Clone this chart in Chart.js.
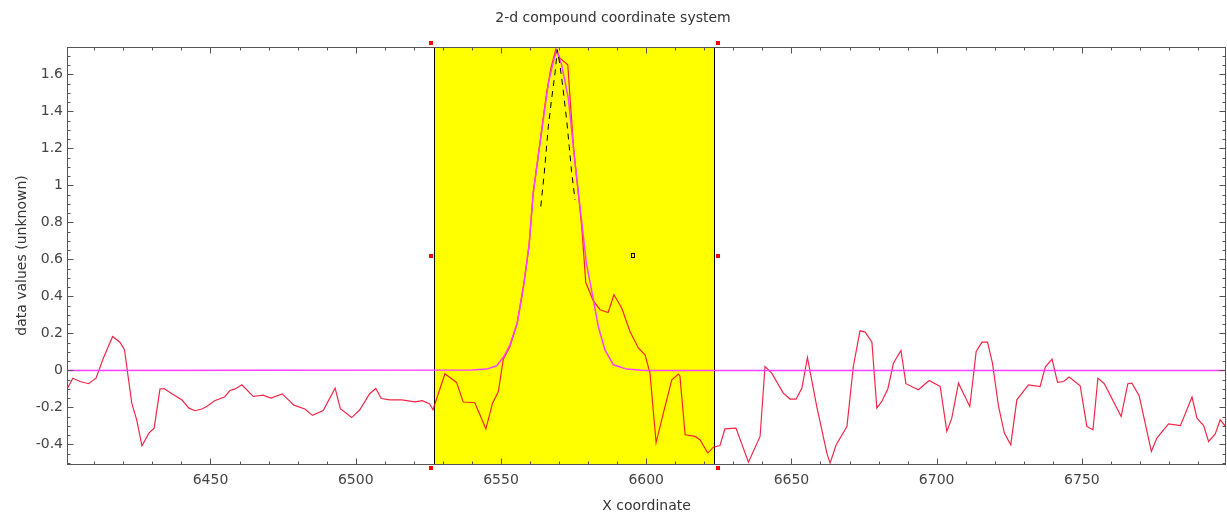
<!DOCTYPE html>
<html>
<head>
<meta charset="utf-8">
<script src="https://cdn.jsdelivr.net/npm/chart.js@4"></script>
<style>
  body { margin: 0; background: #fff; }
  #wrap { width: 1227px; height: 515px; }
</style>
</head>
<body>
<div id="wrap"><canvas id="chart"></canvas></div>
<script>
// Spectrum (red), fitted profile (magenta), narrow model (dashed black)
const dataX = [
  6400.5, 6402.6, 6405.1, 6408.0, 6410.6, 6413.1, 6416.3, 6418.9, 6420.4, 6421.4,
  6422.9, 6424.6, 6426.4, 6428.8, 6430.6, 6432.6, 6434.0, 6436.7, 6440.1, 6442.6,
  6444.7, 6447.0, 6448.7, 6451.4, 6454.8, 6456.7, 6458.5, 6460.8, 6464.7, 6468.1,
  6470.8, 6474.7, 6478.7, 6482.5, 6485.1, 6488.8, 6492.9, 6494.7, 6498.6, 6501.4,
  6504.8, 6506.9, 6508.8, 6511.8, 6515.8, 6520.4, 6522.9, 6525.4, 6526.6, 6530.7,
  6534.7, 6537.0, 6541.0, 6544.8, 6547.1, 6549.1, 6550.8, 6553.1, 6555.6, 6557.9,
  6559.7, 6561.1, 6564.0, 6565.7, 6567.2, 6568.9, 6570.3, 6573.0, 6573.8, 6575.0,
  6576.6, 6577.8, 6579.2, 6581.8, 6584.1, 6586.9, 6588.9, 6591.6, 6594.4, 6597.3,
  6599.6, 6601.3, 6603.4, 6605.9, 6608.8, 6611.1, 6611.6, 6613.4, 6616.8, 6618.5,
  6621.2, 6623.1, 6625.4, 6627.1, 6630.9, 6635.2, 6639.2, 6640.9, 6643.2, 6647.2,
  6649.5, 6651.6, 6653.6, 6655.5, 6658.7, 6662.2, 6663.3, 6665.4, 6669.1, 6671.3,
  6673.6, 6675.4, 6677.7, 6679.4, 6681.1, 6683.2, 6685.1, 6687.7, 6689.4, 6693.7,
  6697.4, 6701.2, 6703.5, 6705.2, 6707.5, 6711.4, 6713.6, 6715.6, 6717.5, 6719.2,
  6721.3, 6723.3, 6725.5, 6727.6, 6731.6, 6735.6, 6737.4, 6739.7, 6741.6, 6743.7,
  6745.6, 6749.4, 6751.7, 6753.8, 6755.5, 6757.7, 6763.5, 6765.8, 6767.2, 6769.7,
  6773.9, 6775.8, 6779.8, 6783.9, 6787.9, 6789.6, 6791.9, 6793.6, 6795.9, 6797.6,
  6799.6
];
const dataY = [
  -0.105, -0.042, -0.060, -0.072, -0.042, 0.066, 0.183, 0.151, 0.111, -0.006,
  -0.177, -0.267, -0.408, -0.339, -0.312, -0.101, -0.098, -0.126, -0.159, -0.204,
  -0.218, -0.209, -0.195, -0.164, -0.144, -0.109, -0.100, -0.078, -0.141, -0.134,
  -0.150, -0.127, -0.188, -0.209, -0.243, -0.217, -0.096, -0.207, -0.255, -0.213,
  -0.126, -0.098, -0.152, -0.159, -0.159, -0.170, -0.164, -0.180, -0.213, -0.018,
  -0.065, -0.171, -0.175, -0.316, -0.177, -0.114, 0.061, 0.129, 0.256, 0.472,
  0.680, 0.958, 1.300, 1.498, 1.634, 1.737, 1.688, 1.652, 1.470, 1.200,
  0.960, 0.778, 0.475, 0.376, 0.328, 0.313, 0.409, 0.336, 0.210, 0.121,
  0.084, -0.015, -0.390, -0.231, -0.051, -0.020, -0.030, -0.348, -0.357, -0.375,
  -0.447, -0.415, -0.406, -0.316, -0.312, -0.496, -0.357, 0.021, -0.015, -0.123,
  -0.155, -0.155, -0.096, 0.070, -0.195, -0.447, -0.501, -0.402, -0.303, 0.021,
  0.214, 0.207, 0.153, -0.204, -0.168, -0.099, 0.039, 0.108, -0.072, -0.105,
  -0.055, -0.087, -0.330, -0.258, -0.069, -0.195, 0.102, 0.153, 0.153, 0.039,
  -0.195, -0.339, -0.402, -0.159, -0.078, -0.087, 0.018, 0.061, -0.065, -0.060,
  -0.036, -0.083, -0.303, -0.321, -0.042, -0.072, -0.249, -0.072, -0.069, -0.137,
  -0.438, -0.366, -0.289, -0.299, -0.144, -0.258, -0.298, -0.384, -0.343, -0.267,
  -0.306
];

const fitX = [
  6400.6, 6540.0, 6545.1, 6548.5, 6551.0, 6553.1, 6555.6, 6557.7, 6559.7, 6561.1,
  6564.0, 6566.3, 6568.2, 6569.2, 6570.9, 6573.2, 6575.5, 6577.2, 6579.4, 6581.6,
  6583.5, 6585.8, 6588.7, 6593.3, 6599.5, 6799.6
];
const fitY = [
  0, 0.002, 0.007, 0.025, 0.075, 0.138, 0.256, 0.444, 0.680, 0.958,
  1.290, 1.550, 1.680, 1.730, 1.650, 1.470, 1.120, 0.886, 0.580, 0.400,
  0.237, 0.111, 0.030, 0.007, 0, 0
];

const modelX = [6563.7, 6564.9, 6566.3, 6567.4, 6568.6, 6569.4, 6570.3, 6571.4, 6572.6, 6573.5, 6574.3, 6575.5];
const modelY = [0.886, 1.066, 1.318, 1.463, 1.607, 1.733, 1.652, 1.517, 1.355, 1.210, 1.075, 0.922];

const xTicks = [6450, 6500, 6550, 6600, 6650, 6700, 6750];
const yTicks = [-0.4, -0.2, 0, 0.2, 0.4, 0.6, 0.8, 1, 1.2, 1.4, 1.6];

const xRange = [6400.6, 6799.6];
const yRange = [-0.506, 1.748];
const region = [6527.0, 6623.3];
const cursor = [6595.3, 0.62];

function points(xs, ys) {
  return xs.map((x, i) => ({ x, y: ys[i] }));
}

// yellow region, frame with inward ticks, handles
const decorations = {
  id: "decorations",
  beforeDatasetsDraw(chart) {
    const { ctx, chartArea: a, scales: { x } } = chart;
    const l = Math.round(x.getPixelForValue(region[0])) + 0.5;
    const r = Math.round(x.getPixelForValue(region[1])) + 0.5;
    ctx.save();
    ctx.fillStyle = "#ffff00";
    ctx.fillRect(l, a.top, r - l, a.bottom - a.top);
    ctx.strokeStyle = "#000";
    ctx.lineWidth = 1;
    ctx.strokeRect(l, Math.round(a.top) + 0.5, r - l, Math.round(a.bottom - a.top));
    ctx.restore();
  },
  afterDatasetsDraw(chart) {
    const { ctx, chartArea: a, scales: { x, y } } = chart;
    const L = Math.round(a.left) + 0.5, R = Math.round(a.right) - 0.5;
    const T = Math.round(a.top) + 0.5, B = Math.round(a.bottom) + 0.5;
    ctx.save();
    ctx.strokeStyle = "#555";
    ctx.lineWidth = 1;
    ctx.strokeRect(L, T, R - L, B - T);

    ctx.beginPath();
    for (let k = Math.ceil(xRange[0] / 10); k * 10 <= xRange[1]; k++) {
      const px = Math.round(x.getPixelForValue(k * 10)) + 0.5;
      const len = k % 5 === 0 ? 6 : 3;
      ctx.moveTo(px, B); ctx.lineTo(px, B - len);
      ctx.moveTo(px, T); ctx.lineTo(px, T + len);
    }
    for (let k = Math.ceil(yRange[0] / 0.05); k * 0.05 <= yRange[1]; k++) {
      const py = Math.round(y.getPixelForValue(k * 0.05)) + 0.5;
      const len = k % 4 === 0 ? 6 : 3;
      ctx.moveTo(L, py); ctx.lineTo(L + len, py);
      ctx.moveTo(R, py); ctx.lineTo(R - len, py);
    }
    ctx.stroke();

    // selection handles
    const l = Math.round(x.getPixelForValue(region[0]));
    const r = Math.round(x.getPixelForValue(region[1]));
    const mid = Math.round((a.top + a.bottom) / 2);
    ctx.fillStyle = "#ff0000";
    [l - 5, r + 2].forEach(hx => {
      [Math.round(a.top) - 6, mid - 2, Math.round(a.bottom) + 2].forEach(hy => {
        ctx.fillRect(hx, hy, 4, 4);
      });
    });

    const cx = Math.round(x.getPixelForValue(cursor[0]));
    const cy = Math.round(y.getPixelForValue(cursor[1]));
    ctx.strokeStyle = "#000";
    ctx.strokeRect(cx - 1.5, cy - 2.5, 3, 4);
    ctx.restore();
  }
};

const font = { family: "'DejaVu Sans', sans-serif", size: 14 };

new Chart(document.getElementById("chart"), {
  type: "line",
  data: {
    datasets: [
      {
        data: points(modelX, modelY),
        borderColor: "#000",
        borderWidth: 1,
        borderDash: [6, 5],
        pointRadius: 0,
        tension: 0
      },
      {
        data: points(fitX, fitY),
        borderColor: "#ff40ff",
        borderWidth: 1.5,
        pointRadius: 0,
        tension: 0
      },
      {
        data: points(dataX, dataY),
        borderColor: "rgba(240, 0, 40, 0.85)",
        borderWidth: 1.2,
        pointRadius: 0,
        tension: 0
      }
    ]
  },
  options: {
    responsive: true,
    maintainAspectRatio: false,
    animation: false,
    layout: { padding: { right: 1 } },
    plugins: {
      legend: { display: false },
      tooltip: { enabled: false },
      title: {
        display: true,
        text: "2-d compound coordinate system",
        color: "#333",
        font: { ...font, weight: "normal" },
        padding: { top: 9.6, bottom: 20.6 }
      }
    },
    scales: {
      x: {
        type: "linear",
        min: xRange[0],
        max: xRange[1],
        afterBuildTicks(scale) { scale.ticks = xTicks.map(value => ({ value })); },
        afterFit(scale) { scale.height = 51; },
        grid: { display: false, drawTicks: false },
        border: { display: false },
        ticks: {
          padding: 7.6,
          color: "#444",
          font,
          maxRotation: 0,
          autoSkip: false,
          callback: v => String(v)
        },
        title: {
          display: true,
          text: "X coordinate",
          color: "#333",
          font,
          padding: { top: 0, bottom: 0.6 }
        }
      },
      y: {
        min: yRange[0],
        max: yRange[1],
        afterBuildTicks(scale) { scale.ticks = yTicks.map(value => ({ value })); },
        afterFit(scale) { scale.width = 67; },
        grid: { display: false, drawTicks: false },
        border: { display: false },
        ticks: {
          padding: 4,
          color: "#444",
          font,
          autoSkip: false,
          callback: v => String(+v.toFixed(2))
        },
        title: {
          display: true,
          text: "data values (unknown)",
          color: "#333",
          font,
          padding: { top: 14.1, bottom: 0 }
        }
      }
    }
  },
  plugins: [decorations]
});
</script>
</body>
</html>
